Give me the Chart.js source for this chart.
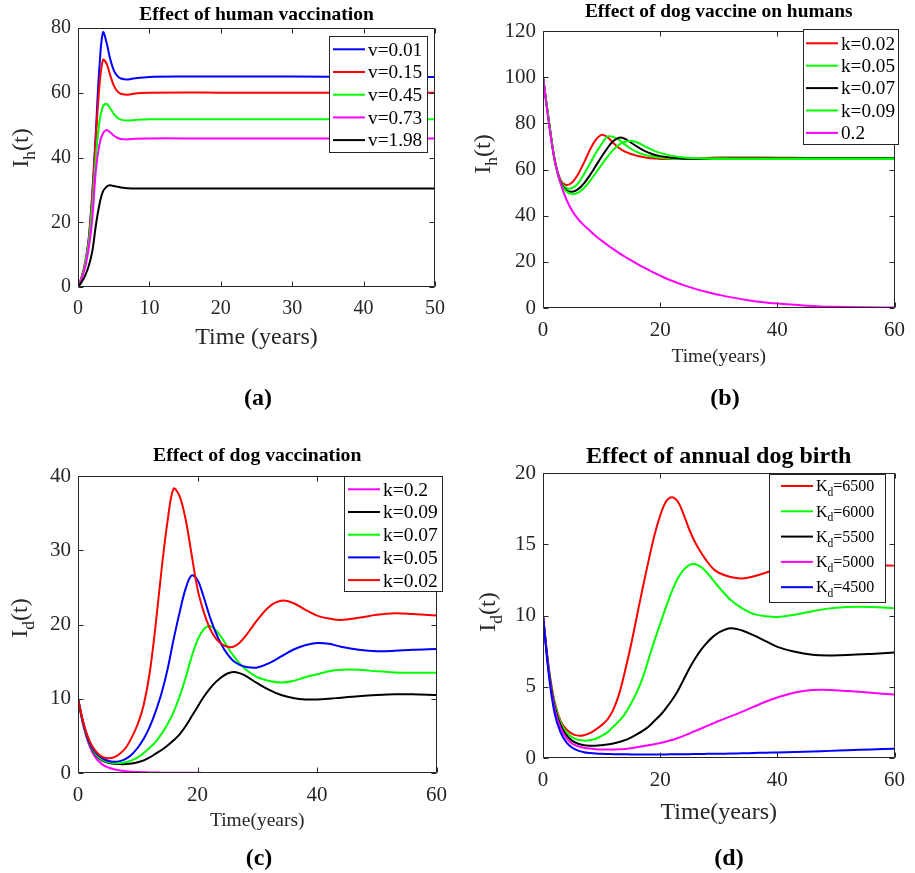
<!DOCTYPE html>
<html>
<head>
<meta charset="utf-8">
<script src="https://cdn.jsdelivr.net/npm/chart.js@4"></script>
<style>
body { margin: 0; background: #fff; width: 915px; height: 873px; position: relative; overflow: hidden; }
canvas { position: absolute; }
.cap { position: absolute; font: bold 24px "Liberation Serif", serif; transform: translate(-50%, -50%); color: #000; }
</style>
</head>
<body>
<canvas id="pa"></canvas>
<canvas id="pb"></canvas>
<canvas id="pc"></canvas>
<canvas id="pd"></canvas>
<div class="cap" style="left:258px;top:397px">(a)</div>
<div class="cap" style="left:725px;top:397px">(b)</div>
<div class="cap" style="left:259px;top:857px">(c)</div>
<div class="cap" style="left:729px;top:857px">(d)</div>
<script>
// (a) human vaccination
const timeA = [0, 0.5, 1, 1.5, 2, 2.5, 3, 3.5, 4, 4.5, 5, 5.5, 6, 7, 8, 10, 15, 20, 30, 40, 50];
const ihV001 = [0, 3, 7.5, 15, 29, 48, 68, 78.7, 75.5, 70.5, 67, 65.2, 64.4, 64.1, 64.5, 64.9, 65, 65, 65, 64.9, 64.9];
const ihV015 = [0, 3, 7.3, 14.5, 28, 46, 62, 70.2, 69, 65.5, 62.3, 60.5, 59.7, 59.4, 59.8, 60, 60.1, 60, 60, 60, 60];
const ihV045 = [0, 2.8, 7, 13.5, 25, 40, 51, 55.8, 56.6, 55.2, 53.5, 52.3, 51.7, 51.4, 51.6, 51.8, 51.8, 51.8, 51.8, 51.8, 51.8];
const ihV073 = [0, 2.5, 6, 12, 21, 36, 44, 47.5, 48.5, 47.8, 46.8, 46.1, 45.7, 45.6, 45.8, 45.9, 45.9, 45.9, 45.9, 45.9, 45.9];
const ihV198 = [0, 1.5, 3.5, 6.5, 11, 19, 25.5, 29.5, 31, 31.4, 31.2, 31, 30.7, 30.5, 30.4, 30.4, 30.4, 30.4, 30.4, 30.4, 30.4];

// (b) dog vaccine on humans
const timeB = [0, 1, 2, 3, 4, 5, 6, 7, 8, 9, 10, 11, 12, 13, 14, 15, 16, 17, 18, 19, 20, 22, 24, 26, 28, 30, 35, 40, 45, 50, 55, 60];
const ihK002 = [100, 81, 64, 55.5, 53.3, 54.5, 58, 63, 68.5, 72.8, 75, 74, 71.5, 69.3, 67.7, 66.7, 66, 65.4, 65, 64.8, 64.6, 64.5, 64.6, 64.8, 65, 65.2, 65.2, 65.1, 65, 65, 65, 65];
const ihK005 = [100, 81, 64, 55, 52, 52, 54, 58, 62.5, 67, 71, 74.3, 74.1, 72.8, 70.8, 69, 67.6, 66.6, 66, 65.5, 65.1, 64.7, 64.6, 64.7, 64.8, 65, 65, 65, 65, 65, 65, 65];
const ihK007 = [100, 81, 64, 54.5, 51, 50.4, 51.5, 54, 57.5, 61.5, 65.5, 69.3, 72.3, 73.8, 73.3, 71.7, 70, 68.5, 67.3, 66.4, 65.8, 65.1, 64.7, 64.6, 64.6, 64.7, 64.8, 64.8, 64.8, 64.8, 64.8, 64.8];
const ihK009 = [100, 81, 64, 54, 50.5, 49.4, 50, 52, 55, 58.5, 62, 65.5, 68.5, 70.8, 72, 72.3, 71.8, 70.6, 69.3, 68.1, 67.2, 65.9, 65.2, 64.9, 64.7, 64.6, 64.6, 64.6, 64.6, 64.6, 64.6, 64.6];
const ihK02 = [100, 80, 64, 54, 47, 42, 38.5, 35.8, 33.5, 31.2, 29.2, 27.3, 25.5, 23.8, 22.2, 20.7, 19.2, 17.8, 16.5, 15.2, 14, 11.8, 9.9, 8.3, 6.9, 5.7, 3.4, 1.9, 1.0, 0.5, 0.3, 0.2];

// (c) dog vaccination
const timeC = [0, 1, 2, 3, 4, 5, 6, 7, 8, 9, 10, 11, 12, 13, 14, 15, 16, 17, 18, 19, 20, 21, 22, 23, 24, 25, 26, 27, 28, 29, 30, 32, 34, 36, 38, 40, 42, 44, 47, 50, 53, 56, 60];
const idK02 = [10, 6.0, 3.5, 2.0, 1.2, 0.75, 0.5, 0.35, 0.25, 0.18, 0.13, 0.1, 0.08, 0.06, 0.05, 0.04, 0.035, 0.03, 0.025, 0.02, 0.018, 0.016, 0.014, 0.012, 0.01, 0.01, 0.009, 0.008, 0.007, 0.006, 0.005, 0.004, 0.003, 0.003, 0.002, 0.002, 0.001, 0.001, 0.001, 0, 0, 0, 0];
const idK009 = [10, 6.2, 3.8, 2.4, 1.7, 1.4, 1.25, 1.2, 1.2, 1.28, 1.45, 1.7, 2.1, 2.6, 3.1, 3.7, 4.4, 5.2, 6.3, 7.6, 8.9, 10.2, 11.3, 12.2, 12.9, 13.4, 13.6, 13.45, 13.1, 12.6, 12.1, 11.2, 10.5, 10.1, 9.9, 9.9, 10, 10.15, 10.35, 10.5, 10.6, 10.6, 10.5];
const idK007 = [10, 6.3, 3.9, 2.5, 1.8, 1.5, 1.35, 1.33, 1.45, 1.7, 2.1, 2.7, 3.4, 4.2, 5.3, 6.6, 8.2, 10.3, 12.8, 15.6, 17.9, 19.3, 19.8, 19.3, 18.3, 17, 15.8, 14.8, 14, 13.4, 12.9, 12.4, 12.2, 12.4, 12.9, 13.3, 13.7, 13.9, 13.9, 13.7, 13.55, 13.5, 13.5];
const idK005 = [10, 6.4, 4.0, 2.7, 2.0, 1.65, 1.52, 1.6, 1.9, 2.5, 3.4, 4.6, 6.2, 8.3, 10.8, 14, 18, 21.6, 24.8, 26.6, 26, 23.8, 21.2, 19, 17.3, 16, 15.1, 14.6, 14.3, 14.2, 14.2, 14.8, 15.7, 16.6, 17.2, 17.5, 17.4, 17, 16.6, 16.4, 16.45, 16.6, 16.7];
const idK002 = [10, 6.5, 4.2, 2.9, 2.2, 2.0, 2.1, 2.6, 3.4, 4.8, 6.6, 9.2, 13.5, 20, 27.5, 34, 38.3, 37.3, 34.2, 29.5, 24.8, 21.8, 19.6, 18.2, 17.4, 17, 17, 17.5, 18.4, 19.5, 20.6, 22.4, 23.2, 22.9, 22, 21.2, 20.8, 20.6, 20.9, 21.3, 21.5, 21.4, 21.2];

// (d) annual dog birth
const timeD = [0, 1, 2, 3, 4, 5, 6, 7, 8, 9, 10, 11, 12, 13, 14, 15, 16, 17, 18, 19, 20, 21, 22, 23, 24, 25, 26, 27, 28, 29, 30, 32, 34, 36, 38, 40, 43, 46, 49, 52, 56, 60];
const idKd6500 = [10, 6.3, 3.9, 2.6, 2.0, 1.7, 1.57, 1.6, 1.75, 2.0, 2.3, 2.7, 3.4, 4.5, 6.1, 7.9, 9.9, 11.9, 13.8, 15.6, 17, 18, 18.3, 18, 17.1, 16, 15.1, 14.4, 13.8, 13.3, 13, 12.7, 12.6, 12.75, 13, 13.3, 13.6, 13.7, 13.7, 13.65, 13.55, 13.5];
const idKd6000 = [10, 6.2, 3.8, 2.5, 1.8, 1.45, 1.28, 1.22, 1.25, 1.35, 1.55, 1.8, 2.2, 2.6, 3.1, 3.8, 4.6, 5.6, 6.9, 8.2, 9.4, 10.6, 11.7, 12.6, 13.2, 13.55, 13.6, 13.4, 13, 12.5, 12, 11.1, 10.5, 10.1, 9.95, 9.9, 10.05, 10.3, 10.5, 10.6, 10.6, 10.5];
const idKd5500 = [10, 6.1, 3.6, 2.3, 1.6, 1.2, 1.0, 0.9, 0.86, 0.86, 0.9, 0.95, 1.02, 1.12, 1.25, 1.43, 1.65, 1.9, 2.2, 2.6, 3.0, 3.5, 4.05, 4.7, 5.5, 6.3, 7.0, 7.6, 8.1, 8.5, 8.8, 9.1, 8.95, 8.6, 8.2, 7.8, 7.45, 7.25, 7.2, 7.22, 7.3, 7.4];
const idKd5000 = [10, 6.0, 3.4, 2.1, 1.4, 1.0, 0.82, 0.72, 0.66, 0.62, 0.6, 0.59, 0.59, 0.61, 0.64, 0.69, 0.75, 0.82, 0.9, 0.97, 1.05, 1.15, 1.26, 1.4, 1.55, 1.72, 1.9, 2.07, 2.25, 2.42, 2.6, 2.92, 3.25, 3.6, 3.95, 4.25, 4.6, 4.77, 4.78, 4.7, 4.58, 4.45];
const idKd4500 = [10, 5.8, 3.1, 1.8, 1.1, 0.72, 0.52, 0.41, 0.35, 0.31, 0.29, 0.28, 0.27, 0.26, 0.26, 0.25, 0.25, 0.25, 0.25, 0.25, 0.25, 0.25, 0.26, 0.26, 0.27, 0.27, 0.28, 0.28, 0.29, 0.29, 0.3, 0.31, 0.33, 0.35, 0.37, 0.39, 0.42, 0.46, 0.5, 0.54, 0.6, 0.65];

const BLUE = '#0000ff', RED = '#ff0000', GREEN = '#00ff00', MAG = '#ff00ff', BLACK = '#000000';
const FONT = '"Liberation Serif", "Times New Roman", serif';

// text with "_x" subscripts
function drawRich(ctx, str, x, y, size, align) {
    const parts = [];
    str.split(/(_.)/).forEach(p => {
        if (!p) return;
        if (p[0] === '_') parts.push({ t: p[1], s: true });
        else parts.push({ t: p, s: false });
    });
    const font = s => `${s ? size * 0.72 : size}px ${FONT}`;
    let w = 0;
    parts.forEach(p => { ctx.font = font(p.s); p.w = ctx.measureText(p.t).width; w += p.w; });
    let cx = align === 'center' ? x - w / 2 : x;
    ctx.textAlign = 'left';
    ctx.textBaseline = 'alphabetic';
    parts.forEach(p => {
        ctx.font = font(p.s);
        ctx.fillText(p.t, cx, y + (p.s ? size * 0.3 : 0));
        cx += p.w;
    });
}

const matlabAxes = {
    id: 'matlabAxes',
    afterDraw(chart, args, o) {
        const { ctx, chartArea: a } = chart;
        const x = chart.scales.x, y = chart.scales.y;
        ctx.save();
        // box + inward ticks
        ctx.strokeStyle = '#262626';
        ctx.lineWidth = 1;
        const L = Math.round(a.left) + 0.5, R = Math.round(a.right) - 0.5;
        const T = Math.round(a.top) + 0.5, B = Math.round(a.bottom) - 0.5;
        ctx.beginPath();
        ctx.rect(L, T, R - L, B - T);
        x.ticks.forEach(t => {
            const px = Math.round(x.getPixelForValue(t.value)) + 0.5;
            ctx.moveTo(px, B); ctx.lineTo(px, B - 5);
            ctx.moveTo(px, T); ctx.lineTo(px, T + 5);
        });
        y.ticks.forEach(t => {
            const py = Math.round(y.getPixelForValue(t.value)) + 0.5;
            ctx.moveTo(L, py); ctx.lineTo(L + 5, py);
            ctx.moveTo(R, py); ctx.lineTo(R - 5, py);
        });
        ctx.stroke();

        // titles
        const cx = (a.left + a.right) / 2;
        ctx.fillStyle = '#000';
        ctx.textAlign = 'center';
        ctx.textBaseline = 'middle';
        ctx.font = `bold ${o.titleSize}px ${FONT}`;
        ctx.fillText(o.title, cx, o.titleY);
        ctx.fillStyle = '#262626';
        ctx.font = `${o.xSize}px ${FONT}`;
        ctx.fillText(o.xTitle, cx, o.xTitleY);

        ctx.save();
        ctx.translate(o.yTitleX, o.yTitleY);
        ctx.rotate(-Math.PI / 2);
        drawRich(ctx, o.yTitle, 0, 0, o.ySize, 'center');
        ctx.restore();

        // legend
        const lg = o.legend;
        ctx.fillStyle = '#fff';
        ctx.fillRect(lg.x1, lg.y1, lg.x2 - lg.x1, lg.y2 - lg.y1);
        ctx.strokeStyle = '#262626';
        ctx.strokeRect(lg.x1 + 0.5, lg.y1 + 0.5, lg.x2 - lg.x1 - 1, lg.y2 - lg.y1 - 1);
        chart.data.datasets.forEach((ds, i) => {
            const ry = lg.row0 + i * lg.step;
            ctx.strokeStyle = ds.borderColor;
            ctx.lineWidth = 2;
            ctx.beginPath();
            ctx.moveTo(lg.lx1, ry); ctx.lineTo(lg.lx2, ry);
            ctx.stroke();
            ctx.fillStyle = '#000';
            drawRich(ctx, ds.label, lg.tx, ry + lg.size * 0.33, lg.size, 'left');
        });
        ctx.restore();
    }
};

function makePanel(id, box, area, xr, yr, times, series, txt) {
    const el = document.getElementById(id);
    el.width = box.w; el.height = box.h;
    el.style.left = box.x + 'px'; el.style.top = box.y + 'px';
    const ox = box.x, oy = box.y;
    const lg = txt.legend;
    const tickFont = { family: FONT, size: txt.tickSize };
    new Chart(el, {
        type: 'line',
        data: {
            datasets: series.map((s, i) => ({
                label: s.label,
                data: times.map((t, j) => ({ x: t, y: s.values[j] })),
                borderColor: s.color,
                borderWidth: 2,
                pointRadius: 0,
                fill: false,
                tension: 0.35,
                order: series.length - i
            }))
        },
        options: {
            responsive: false,
            animation: false,
            events: [],
            layout: { padding: { left: 0, top: area.t - oy, right: ox + box.w - area.r, bottom: 0 } },
            plugins: {
                legend: { display: false },
                tooltip: { enabled: false },
                matlabAxes: {
                    title: txt.title, titleSize: txt.titleSize, titleY: txt.titleY - oy,
                    xTitle: txt.xTitle, xSize: txt.xSize, xTitleY: txt.xTitleY - oy,
                    yTitle: txt.yTitle, ySize: txt.ySize, yTitleX: txt.yTitleX - ox, yTitleY: txt.yTitleY - oy,
                    legend: {
                        x1: lg.x1 - ox, x2: lg.x2 - ox, y1: lg.y1 - oy, y2: lg.y2 - oy,
                        row0: lg.row0 - oy, step: lg.step, lx1: lg.lx1 - ox, lx2: lg.lx2 - ox,
                        tx: lg.tx - ox, size: lg.size
                    }
                }
            },
            scales: {
                x: {
                    type: 'linear', min: xr[0], max: xr[1],
                    ticks: { stepSize: xr[2], font: tickFont, color: '#262626', padding: 10, maxRotation: 0, autoSkip: false },
                    grid: { display: false, drawTicks: false }, border: { display: false },
                    afterFit: s => { s.height = oy + box.h - area.b; }
                },
                y: {
                    min: yr[0], max: yr[1],
                    ticks: { stepSize: yr[2], font: tickFont, color: '#262626', padding: 7, autoSkip: false },
                    grid: { display: false, drawTicks: false }, border: { display: false },
                    afterFit: s => { s.width = area.l - ox; }
                }
            }
        },
        plugins: [matlabAxes]
    });
}

makePanel('pa', { x: 0, y: 0, w: 455, h: 425 }, { l: 78, t: 28, r: 438, b: 287 }, [0, 50, 10], [0, 80, 20], timeA, [
    { label: 'v=0.01', color: BLUE, values: ihV001 },
    { label: 'v=0.15', color: RED, values: ihV015 },
    { label: 'v=0.45', color: GREEN, values: ihV045 },
    { label: 'v=0.73', color: MAG, values: ihV073 },
    { label: 'v=1.98', color: BLACK, values: ihV198 }
], {
    title: 'Effect of human vaccination', titleSize: 19.5, titleY: 15,
    xTitle: 'Time (years)', xSize: 24, xTitleY: 338,
    yTitle: 'I_h(t)', ySize: 24, yTitleX: 28, yTitleY: 148, tickSize: 20,
    legend: { x1: 329, x2: 428, y1: 36, y2: 153, row0: 49.3, step: 22.7, lx1: 333, lx2: 365, tx: 368, size: 19.3 }
});

makePanel('pb', { x: 455, y: 0, w: 460, h: 425 }, { l: 543, t: 31, r: 901, b: 308 }, [0, 60, 20], [0, 120, 20], timeB, [
    { label: 'k=0.02', color: RED, values: ihK002 },
    { label: 'k=0.05', color: GREEN, values: ihK005 },
    { label: 'k=0.07', color: BLACK, values: ihK007 },
    { label: 'k=0.09', color: GREEN, values: ihK009 },
    { label: '0.2', color: MAG, values: ihK02 }
], {
    title: 'Effect of dog vaccine on humans', titleSize: 19.4, titleY: 12,
    xTitle: 'Time(years)', xSize: 19.5, xTitleY: 357,
    yTitle: 'I_h(t)', ySize: 24, yTitleX: 490, yTitleY: 154, tickSize: 21,
    legend: { x1: 803, x2: 899, y1: 29, y2: 145, row0: 43.3, step: 22.4, lx1: 806, lx2: 838, tx: 841, size: 19.2 }
});

makePanel('pc', { x: 0, y: 425, w: 457, h: 448 }, { l: 78, t: 476, r: 442, b: 773 }, [0, 60, 20], [0, 40, 10], timeC, [
    { label: 'k=0.2', color: MAG, values: idK02 },
    { label: 'k=0.09', color: BLACK, values: idK009 },
    { label: 'k=0.07', color: GREEN, values: idK007 },
    { label: 'k=0.05', color: BLUE, values: idK005 },
    { label: 'k=0.02', color: RED, values: idK002 }
], {
    title: 'Effect of dog vaccination', titleSize: 19.7, titleY: 456,
    xTitle: 'Time(years)', xSize: 19.5, xTitleY: 821,
    yTitle: 'I_d(t)', ySize: 24, yTitleX: 27, yTitleY: 618, tickSize: 21,
    legend: { x1: 344, x2: 443, y1: 476, y2: 592, row0: 489.3, step: 22.7, lx1: 348, lx2: 380, tx: 383, size: 19.5 }
});

makePanel('pd', { x: 457, y: 425, w: 458, h: 448 }, { l: 543, t: 473, r: 901, b: 758 }, [0, 60, 20], [0, 20, 5], timeD, [
    { label: 'K_d=6500', color: RED, values: idKd6500 },
    { label: 'K_d=6000', color: GREEN, values: idKd6000 },
    { label: 'K_d=5500', color: BLACK, values: idKd5500 },
    { label: 'K_d=5000', color: MAG, values: idKd5000 },
    { label: 'K_d=4500', color: BLUE, values: idKd4500 }
], {
    title: 'Effect of annual dog birth', titleSize: 24, titleY: 457,
    xTitle: 'Time(years)', xSize: 24, xTitleY: 813,
    yTitle: 'I_d(t)', ySize: 24, yTitleX: 495, yTitleY: 612, tickSize: 21,
    legend: { x1: 769, x2: 886, y1: 474, y2: 603, row0: 486, step: 25.3, lx1: 781, lx2: 813, tx: 816, size: 16 }
});
</script>
</body>
</html>
